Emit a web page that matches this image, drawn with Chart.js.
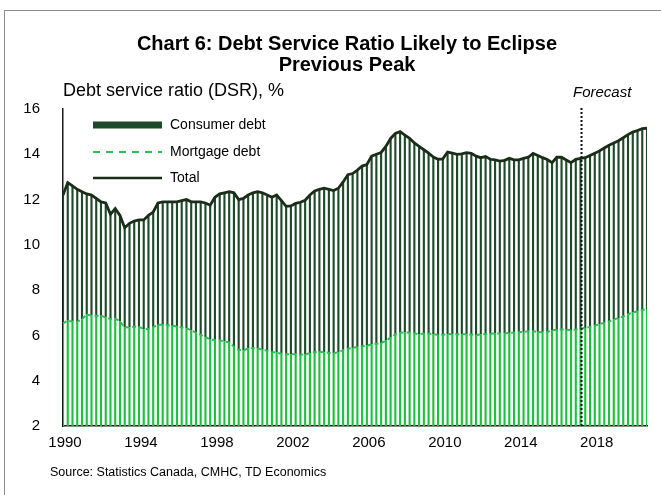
<!DOCTYPE html>
<html>
<head>
<meta charset="utf-8">
<script src="https://cdn.jsdelivr.net/npm/chart.js@4.4.1/dist/chart.umd.min.js"></script>
<style>
  html, body { margin: 0; padding: 0; background: #fff; }
  body { width: 661px; height: 495px; position: relative; overflow: hidden; font-family: "Liberation Sans", Arial, sans-serif; }
  #frame { position: absolute; left: 4px; top: 10px; width: 720px; height: 600px; border: 1px solid #8c8c8c; }
  #chartBox { position: absolute; left: 0; top: 0; width: 661px; height: 495px; }
  .txt { position: absolute; white-space: nowrap; color: #000; }
  #title { left: 0; width: 694px; top: 33px; text-align: center; font-weight: bold; font-size: 20px; line-height: 21px; }
  #ylab { left: 63px; top: 80px; font-size: 18px; }
  #fcst { left: 573px; top: 83px; font-size: 15px; font-style: italic; }
  #source { left: 50px; top: 465px; font-size: 12.5px; }
</style>
</head>
<body>
<div id="frame"></div>
<div id="chartBox"><canvas id="dsr" width="661" height="495"></canvas></div>
<div class="txt" id="title">Chart 6: Debt Service Ratio Likely to Eclipse<br>Previous Peak</div>
<div class="txt" id="ylab">Debt service ratio (DSR), %</div>
<div class="txt" id="fcst">Forecast</div>
<div class="txt" id="source">Source: Statistics Canada, CMHC, TD Economics</div>
<script>
// quarterly, 1990Q1 - 2020Q4
const firstYear = 1990
const lastYear = 2020
const quarters = []
for (let y = firstYear; y <= lastYear; y++) {
  for (let q = 1; q <= 4; q++) quarters.push(y + 'Q' + q)
}

// last actual quarter before the forecast starts
const forecastFrom = '2017Q2'

// total DSR, %
const total = [
  12.2, 12.75, 12.6, 12.45,
  12.35, 12.25, 12.2, 12.05,
  11.9, 11.85, 11.35, 11.6,
  11.3, 10.75, 10.95, 11.05,
  11.1, 11.1, 11.3, 11.45,
  11.85, 11.9, 11.9, 11.9,
  11.9, 11.95, 12.0, 11.9,
  11.9, 11.9, 11.85, 11.75,
  12.1, 12.25, 12.3, 12.35,
  12.3, 12.0, 12.05, 12.2,
  12.3, 12.35, 12.3, 12.2,
  12.1, 12.2, 11.95, 11.7,
  11.72, 11.83, 11.88, 11.97,
  12.2, 12.38, 12.45, 12.5,
  12.45, 12.4, 12.5, 12.78,
  13.1, 13.15, 13.3, 13.48,
  13.55, 13.92, 14.0, 14.08,
  14.35, 14.7, 14.92, 15.0,
  14.85, 14.7, 14.5, 14.35,
  14.2, 14.05, 13.88, 13.78,
  13.8, 14.1, 14.05, 14.0,
  14.02, 14.07, 14.04, 13.92,
  13.85, 13.9, 13.78, 13.75,
  13.7, 13.73, 13.82, 13.75,
  13.75, 13.82, 13.87, 14.04,
  13.95, 13.85, 13.77, 13.63,
  13.87, 13.87, 13.75, 13.63,
  13.78, 13.82, 13.85, 13.95,
  14.05, 14.15, 14.28, 14.4,
  14.5, 14.6, 14.73, 14.87,
  14.98, 15.05, 15.13, 15.15
]

// mortgage debt part of the DSR, %
const mortgage = [
  6.53, 6.65, 6.62, 6.6,
  6.72, 6.92, 6.88, 6.87,
  6.87, 6.8, 6.73, 6.75,
  6.62, 6.35, 6.36, 6.38,
  6.38, 6.28, 6.28, 6.37,
  6.47, 6.47, 6.45, 6.43,
  6.39, 6.36, 6.32, 6.22,
  6.12, 6.03, 5.92, 5.82,
  5.8, 5.78, 5.74, 5.69,
  5.5, 5.36, 5.35, 5.42,
  5.44, 5.43, 5.37, 5.32,
  5.27, 5.24, 5.19, 5.17,
  5.17, 5.17, 5.15, 5.16,
  5.22, 5.26, 5.28, 5.26,
  5.24, 5.21, 5.26, 5.35,
  5.41, 5.45, 5.49, 5.52,
  5.55, 5.6, 5.63, 5.66,
  5.77, 5.9, 6.05, 6.12,
  6.13, 6.12, 6.09, 6.05,
  6.08, 6.08, 6.06, 6.02,
  6.03, 6.06, 6.05, 6.05,
  6.05, 6.05, 6.04, 6.02,
  6.04, 6.06, 6.07, 6.09,
  6.09, 6.09, 6.11, 6.13,
  6.14, 6.16, 6.18, 6.18,
  6.16, 6.14, 6.15, 6.22,
  6.25, 6.27, 6.25, 6.24,
  6.26, 6.29, 6.33, 6.37,
  6.43, 6.5, 6.56, 6.62,
  6.7, 6.77, 6.84, 6.93,
  7.01, 7.07, 7.12, 7.17
]

// consumer debt part of the DSR, %
const consumer = [
  5.67, 6.10, 5.98, 5.85,
  5.63, 5.33, 5.32, 5.18,
  5.03, 5.05, 4.62, 4.85,
  4.68, 4.40, 4.59, 4.67,
  4.72, 4.82, 5.02, 5.08,
  5.38, 5.43, 5.45, 5.47,
  5.51, 5.59, 5.68, 5.68,
  5.78, 5.87, 5.93, 5.93,
  6.30, 6.47, 6.56, 6.66,
  6.80, 6.64, 6.70, 6.78,
  6.86, 6.92, 6.93, 6.88,
  6.83, 6.96, 6.76, 6.53,
  6.55, 6.66, 6.73, 6.81,
  6.98, 7.12, 7.17, 7.24,
  7.21, 7.19, 7.24, 7.43,
  7.69, 7.70, 7.81, 7.96,
  8.00, 8.32, 8.37, 8.42,
  8.58, 8.80, 8.87, 8.88,
  8.72, 8.58, 8.41, 8.30,
  8.12, 7.97, 7.82, 7.76,
  7.77, 8.04, 8.00, 7.95,
  7.97, 8.02, 8.00, 7.90,
  7.81, 7.84, 7.71, 7.66,
  7.61, 7.64, 7.71, 7.62,
  7.61, 7.66, 7.69, 7.86,
  7.79, 7.71, 7.62, 7.41,
  7.62, 7.60, 7.50, 7.39,
  7.52, 7.53, 7.52, 7.58,
  7.62, 7.65, 7.72, 7.78,
  7.80, 7.83, 7.89, 7.94,
  7.97, 7.98, 8.01, 7.98
]

const yTicks = [2, 4, 6, 8, 10, 12, 14, 16]

const darkGreen = '#1e4a2a'
const brightGreen = '#1cc23e'
const dashGreen = '#2cbf58'
const totalColor = '#1b2d19'
const tickFont = { family: '"Liberation Sans", Arial, sans-serif', size: 15 }

// legend drawn inside the plot, top left
const dsrLegend = {
  id: 'dsrLegend',
  afterDraw(chart) {
    const { ctx, chartArea } = chart
    const x0 = chartArea.left + 30
    const x1 = x0 + 69
    const tx = x1 + 8
    ctx.save()
    ctx.font = '14px "Liberation Sans", Arial, sans-serif'
    ctx.fillStyle = '#000'
    ctx.textBaseline = 'middle'

    let y = chartArea.top + 16
    ctx.fillStyle = darkGreen
    ctx.fillRect(x0, y - 3.5, x1 - x0, 7)
    ctx.fillStyle = '#000'
    ctx.fillText('Consumer debt', tx, y)

    y += 27
    ctx.strokeStyle = dashGreen
    ctx.lineWidth = 2
    ctx.setLineDash([7, 6])
    ctx.beginPath(); ctx.moveTo(x0, y); ctx.lineTo(x1, y); ctx.stroke()
    ctx.setLineDash([])
    ctx.fillText('Mortgage debt', tx, y)

    y += 26
    ctx.strokeStyle = totalColor
    ctx.lineWidth = 2.5
    ctx.beginPath(); ctx.moveTo(x0, y); ctx.lineTo(x1, y); ctx.stroke()
    ctx.fillText('Total', tx, y)
    ctx.restore()
  }
}

// dotted marker where the forecast begins
const forecastMarker = {
  id: 'forecastMarker',
  afterDatasetsDraw(chart) {
    const { ctx, chartArea, scales } = chart
    const x = Math.round(scales.x.getPixelForValue(quarters.indexOf(forecastFrom))) + 0.5
    ctx.save()
    ctx.strokeStyle = '#111'
    ctx.lineWidth = 2
    ctx.setLineDash([2, 2])
    ctx.beginPath()
    ctx.moveTo(x, chartArea.top - 1)
    ctx.lineTo(x, chartArea.bottom)
    ctx.stroke()
    ctx.restore()
  }
}

const ctx = document.getElementById('dsr')
new Chart(ctx, {
  type: 'bar',
  data: {
    labels: quarters,
    datasets: [
      {
        type: 'line',
        label: 'Total',
        data: total,
        stack: 'total',
        borderColor: totalColor,
        borderWidth: 2.8,
        pointRadius: 0,
        tension: 0,
        order: 0
      },
      {
        type: 'line',
        label: 'Mortgage debt',
        data: mortgage,
        stack: 'mortgageLine',
        borderColor: dashGreen,
        borderWidth: 2,
        borderDash: [4, 3],
        pointRadius: 0,
        tension: 0,
        order: 1
      },
      {
        label: 'Mortgage debt',
        data: mortgage,
        stack: 'dsr',
        backgroundColor: brightGreen,
        barPercentage: 0.45,
        categoryPercentage: 1,
        order: 2
      },
      {
        label: 'Consumer debt',
        data: consumer,
        stack: 'dsr',
        backgroundColor: darkGreen,
        barPercentage: 0.45,
        categoryPercentage: 1,
        order: 3
      }
    ]
  },
  options: {
    responsive: false,
    animation: false,
    events: [],
    layout: {
      padding: { top: 109, right: 14, bottom: 0, left: 0 }
    },
    plugins: {
      legend: { display: false },
      title: { display: false },
      tooltip: { enabled: false }
    },
    scales: {
      x: {
        offset: false,
        grid: { display: false, drawTicks: false },
        border: { display: true, color: '#1a1a1a', width: 1.5 },
        ticks: {
          autoSkip: false,
          maxRotation: 0,
          padding: 8,
          labelOffset: 2,
          color: '#000',
          font: tickFont,
          callback: (v, i) => (i % 16 === 0 ? quarters[i].slice(0, 4) : null)
        },
        afterFit: (scale) => { scale.height = 69 }
      },
      y: {
        stacked: true,
        min: yTicks[0],
        max: yTicks[yTicks.length - 1],
        grid: { display: false, drawTicks: false },
        border: { display: true, color: '#1a1a1a', width: 1.5 },
        afterBuildTicks: (scale) => { scale.ticks = yTicks.map((v) => ({ value: v })) },
        ticks: {
          padding: 23,
          color: '#000',
          font: tickFont
        },
        afterFit: (scale) => { scale.width = 63 }
      }
    }
  },
  plugins: [dsrLegend, forecastMarker]
})
</script>
</body>
</html>
